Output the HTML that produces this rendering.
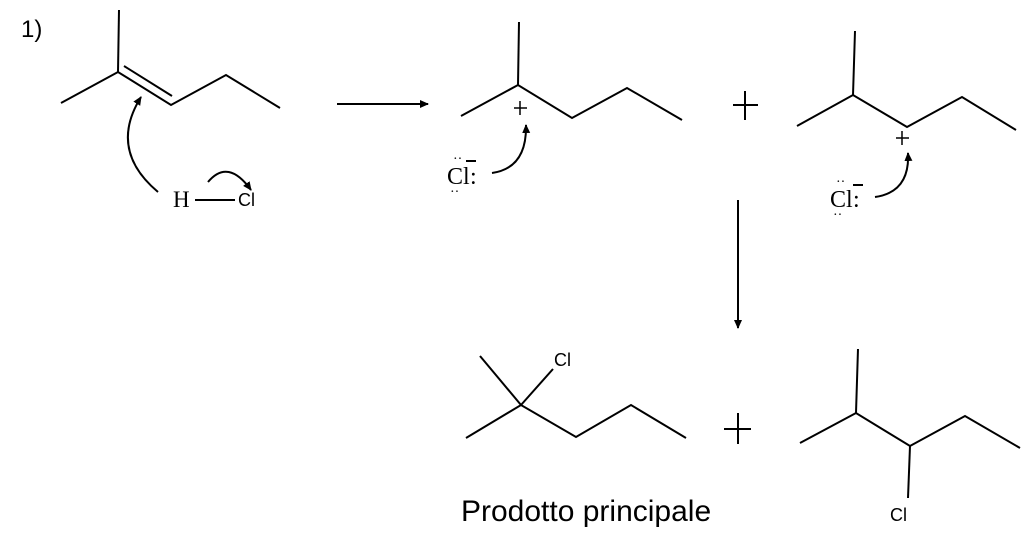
<!DOCTYPE html>
<html><head><style>body{margin:0;background:#fff}svg{display:block}</style></head><body>
<svg width="1024" height="546" viewBox="0 0 1024 546" xmlns="http://www.w3.org/2000/svg">
<defs><marker id="a" markerWidth="10" markerHeight="10" refX="8" refY="5" orient="auto" markerUnits="userSpaceOnUse"><path d="M0,1 L9,5 L0,9 Z" fill="#000"/></marker></defs>
<g stroke="#000" stroke-width="2" fill="none">
<polyline points="119,10 118,72"/>
<polyline points="61,103 118,72 171,105 226,75 280,108"/>
<line x1="124" y1="66" x2="172" y2="96"/>
<path d="M158,192 Q108,150 141,97" marker-end="url(#a)"/>
<line x1="195" y1="200" x2="235" y2="200"/>
<path d="M208,182 Q228,158 251,190" marker-end="url(#a)"/>
<line x1="337" y1="104" x2="428" y2="104" marker-end="url(#a)"/>
<polyline points="519,22 518,85"/>
<polyline points="461,116 518,85 572,118 627,88 682,120"/>
<path d="M492,173 Q527,168 526,125" marker-end="url(#a)"/>
<line x1="733" y1="105" x2="758" y2="105"/><line x1="745" y1="91" x2="745" y2="120"/>
<polyline points="855,31 853,95"/>
<polyline points="797,126 853,95 907,127 962,97 1016,130"/>
<path d="M875,197 Q910,192 908,153" marker-end="url(#a)"/>
<line x1="738" y1="200" x2="738" y2="328" marker-end="url(#a)"/>
<polyline points="480,356 521,405"/>
<polyline points="521,405 553,369"/>
<polyline points="466,438 521,405 576,437 631,405 686,438"/>
<line x1="724" y1="429" x2="751" y2="429"/><line x1="738" y1="413" x2="738" y2="444"/>
<polyline points="858,349 856,413"/>
<polyline points="800,443 856,413 910,446 965,416 1020,448"/>
<polyline points="910,446 908,498"/>
<line x1="514" y1="108" x2="527" y2="108" stroke-width="1.5"/><line x1="520" y1="101" x2="520" y2="115" stroke-width="1.5"/>
<line x1="896" y1="138" x2="909" y2="138" stroke-width="1.5"/><line x1="902" y1="131" x2="902" y2="145" stroke-width="1.5"/>
<line x1="466" y1="161" x2="476" y2="161" stroke-width="2"/>
<line x1="853" y1="185" x2="863" y2="185" stroke-width="2"/>
</g>
<g font-family="Liberation Serif, serif" font-size="24" fill="#000">
<text x="173" y="207" font-size="23">H</text>
<text x="447" y="184">Cl</text><text x="470" y="184">:</text>
<text x="453" y="163" font-size="14">··</text><text x="450" y="196" font-size="14">··</text>
<text x="830" y="207">Cl</text><text x="853" y="207">:</text>
<text x="836" y="186" font-size="14">··</text><text x="833" y="219" font-size="14">··</text>
</g>
<g font-family="Liberation Sans, sans-serif" fill="#000">
<text x="21" y="37" font-size="24">1)</text>
<text x="238" y="206" font-size="18">Cl</text>
<text x="554" y="366" font-size="18">Cl</text>
<text x="890" y="521" font-size="18">Cl</text>
<text x="461" y="521" font-size="30">Prodotto principale</text>
</g>
</svg>
</body></html>
